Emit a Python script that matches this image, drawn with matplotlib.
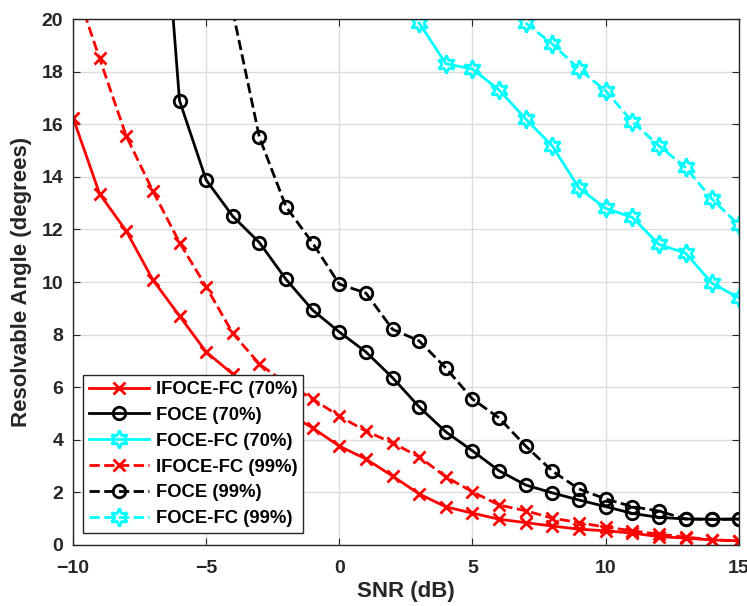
import matplotlib.pyplot as plt

plt.rcParams["font.family"] = ["Liberation Sans", "DejaVu Sans"]
plt.rcParams["font.weight"] = "bold"

snr = list(range(-10, 16))

# IFOCE-FC
ifoce_70 = [16.25, 13.35, 11.94, 10.08, 8.71, 7.34, 6.5, 5.7, 5.05, 4.45,
            3.76, 3.27, 2.62, 1.94, 1.45, 1.21, 0.98, 0.85, 0.72, 0.6,
            0.54, 0.45, 0.32, 0.26, 0.19, 0.16]
ifoce_99 = [21.5, 18.5, 15.55, 13.46, 11.5, 9.82, 8.05, 6.88, 6.15, 5.55,
            4.9, 4.33, 3.88, 3.35, 2.59, 2.02, 1.52, 1.3, 1.02, 0.85,
            0.68, 0.54, 0.41, 0.3, 0.2, 0.15]

# FOCE
snr_foce_70 = list(range(-7, 16))
foce_70 = [30.0, 16.9, 13.88, 12.5, 11.5, 10.1, 8.93, 8.1, 7.34, 6.36,
           5.25, 4.3, 3.58, 2.82, 2.28, 1.98, 1.71, 1.46, 1.2, 1.05,
           0.99, 0.98, 0.99]
snr_foce_99 = list(range(-4, 16))
foce_99 = [20.3, 15.5, 12.86, 11.48, 9.92, 9.58, 8.2, 7.76, 6.73, 5.55,
           4.83, 3.76, 2.81, 2.13, 1.75, 1.46, 1.29, 0.99, 0.97, 0.98]

# FOCE-FC
snr_fc_70 = list(range(3, 16))
focefc_70 = [19.85, 18.3, 18.1, 17.3, 16.2, 15.17, 13.57, 12.8, 12.46,
             11.43, 11.1, 9.95, 9.4]
snr_fc_99 = list(range(7, 16))
focefc_99 = [19.85, 19.05, 18.1, 17.27, 16.1, 15.18, 14.36, 13.15, 12.17]

fig = plt.figure(figsize=(7.47, 6.06), dpi=100)
ax = fig.add_axes([0.0977, 0.1007, 0.8913, 0.8679])

hexagram = (6, 1, 0)
lw = 2.0
ax.plot(snr, ifoce_70, "-", color="red", marker="x", ms=8, mew=2, lw=lw,
        label="IFOCE-FC (70%)")
ax.plot(snr_foce_70, foce_70, "-", color="black", marker="o", ms=9, mew=2,
        mfc="none", lw=lw, label="FOCE (70%)")
ax.plot(snr_fc_70, focefc_70, "-", color="cyan", marker=hexagram, ms=13,
        mew=2, mfc="none", lw=lw, label="FOCE-FC (70%)")
ax.plot(snr, ifoce_99, "--", color="red", marker="x", ms=8, mew=2, lw=lw,
        label="IFOCE-FC (99%)")
ax.plot(snr_foce_99, foce_99, "--", color="black", marker="o", ms=9, mew=2,
        mfc="none", lw=lw, label="FOCE (99%)")
ax.plot(snr_fc_99, focefc_99, "--", color="cyan", marker=hexagram, ms=13,
        mew=2, mfc="none", lw=lw, label="FOCE-FC (99%)")

ax.set_xlim(-10, 15)
ax.set_ylim(0, 20)
ax.set_xticks(range(-10, 16, 5))
ax.set_yticks(range(0, 21, 2))
ax.grid(True, color="#dcdcdc", lw=1)
ax.set_axisbelow(True)
ax.tick_params(direction="in", top=True, right=True, labelsize=14,
               colors="#262626", length=5)
ax.tick_params(axis="x", pad=10.5)
ax.tick_params(axis="y", pad=7)
for s in ax.spines.values():
    s.set_color("#262626")
    s.set_linewidth(1)

ax.set_xlabel("SNR (dB)", fontsize=16, fontweight="bold", color="#262626",
              labelpad=3)
ax.set_ylabel("Resolvable Angle (degrees)", fontsize=16, fontweight="bold",
              color="#262626", labelpad=7)

leg = ax.legend(loc="lower left", bbox_to_anchor=(0.015, 0.023), fontsize=13.3,
                handlelength=3.3, handletextpad=0.35, fancybox=False,
                framealpha=1, edgecolor="#262626", borderpad=0.3,
                labelspacing=0.48, borderaxespad=0)
leg.get_frame().set_linewidth(1)

fig.savefig("out.png", dpi=100)
